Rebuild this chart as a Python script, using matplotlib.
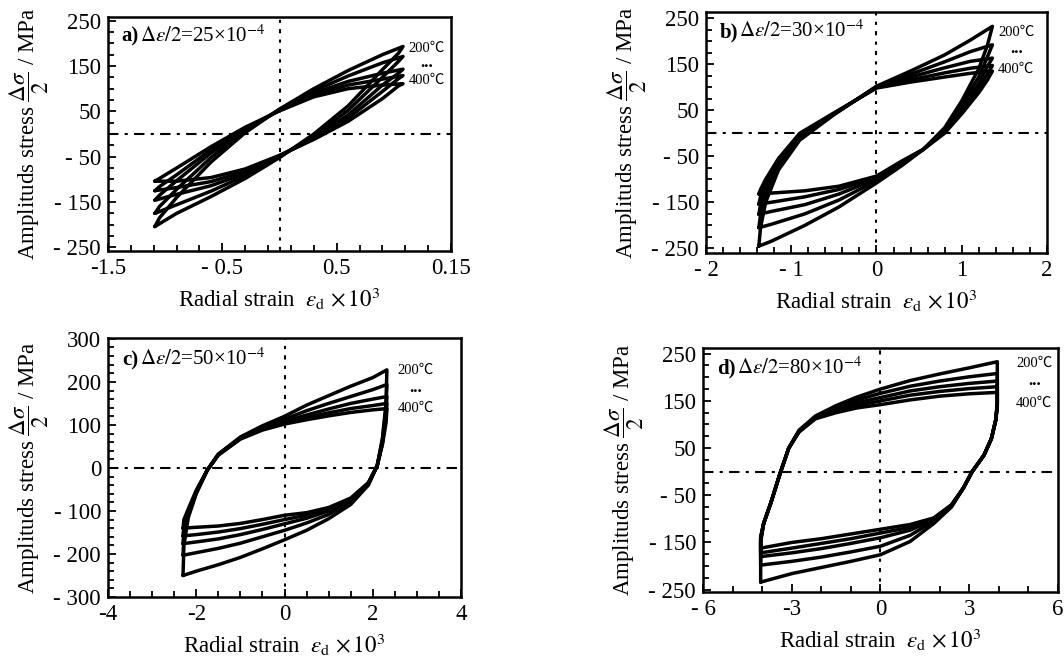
import matplotlib
matplotlib.use("Agg")
import matplotlib.pyplot as plt
import numpy as np
from matplotlib.ticker import MultipleLocator, FixedLocator

plt.rcParams['font.family'] = ['Liberation Serif', 'DejaVu Serif', 'Noto Sans CJK SC']
plt.rcParams['mathtext.fontset'] = 'stix'

# loops for 200, 250, 300, 350, 400 C

# ---- panel a : de/2 = 25e-4
xa_up = [-1.09, -1.05, -0.9, -0.6, -0.3, 0, 0.3, 0.6, 0.9, 1.08]
ya_up = [[-204, -185, -140, -62, 3, 55, 100, 140, 175, 193],
         [-175, -160, -122, -52, 7, 54, 95, 128, 157, 171],
         [-146, -135, -103, -42, 10, 53, 90, 116, 134, 143],
         [-125, -116, -90, -35, 12, 52, 86, 108, 121, 129],
         [-104, -98, -75, -28, 15, 51, 82, 100, 108, 111]]
xa_dn = [1.08, 1.04, 0.9, 0.6, 0.3, 0, -0.3, -0.6, -0.9, -1.09]
ya_dn = [[193, 178, 142, 62, 0, -52, -98, -138, -175, -204],
         [171, 160, 125, 52, -4, -50, -92, -126, -156, -175],
         [143, 134, 108, 42, -8, -49, -87, -114, -133, -146],
         [129, 122, 94, 35, -10, -48, -82, -105, -118, -125],
         [111, 106, 78, 28, -12, -47, -77, -96, -104, -104]]

# ---- panel b : de/2 = 30e-4
xb_up = [-1.38, -1.36, -1.3, -1.15, -0.9, -0.5, 0, 0.4, 0.8, 1.1, 1.36]
yb_up = [[-245, -205, -150, -80, -15, 40, 102, 135, 170, 202, 232],
         [-205, -178, -135, -72, -10, 41, 101, 128, 155, 177, 192],
         [-176, -156, -122, -65, -7, 42, 100, 122, 142, 156, 163],
         [-154, -138, -110, -60, -4, 43, 99, 116, 131, 141, 147],
         [-132, -122, -100, -55, 0, 44, 98, 111, 122, 130, 135]]
xb_dn = [1.36, 1.3, 1.2, 1.0, 0.8, 0.55, 0.3, 0, -0.44, -0.84, -1.24, -1.38]
yb_dn = [[232, 190, 140, 70, 12, -35, -70, -108, -160, -200, -235, -245],
         [192, 165, 122, 62, 8, -35, -67, -103, -145, -175, -198, -205],
         [163, 145, 108, 55, 5, -35, -64, -99, -132, -155, -170, -176],
         [147, 128, 98, 48, 2, -35, -62, -96, -122, -138, -150, -154],
         [135, 115, 88, 42, 0, -35, -60, -93, -115, -125, -130, -132]]

# ---- panel c : de/2 = 50e-4
xc_up = [-2.3, -2.28, -2.18, -2.0, -1.75, -1.5, -1.0, -0.5, 0, 0.5, 1.0, 1.5, 2.0, 2.32]
yc_up = [[-250, -180, -115, -60, -5, 32, 72, 98, 120, 146, 168, 190, 210, 228],
         [-203, -160, -110, -58, -5, 32, 70, 95, 113, 133, 150, 166, 182, 194],
         [-176, -145, -105, -56, -5, 31, 69, 92, 108, 123, 137, 150, 160, 166],
         [-158, -132, -100, -54, -5, 30, 68, 90, 105, 117, 128, 138, 145, 150],
         [-140, -120, -95, -52, -5, 30, 67, 88, 102, 112, 121, 129, 135, 138]]
xc_dn = [2.32, 2.3, 2.22, 2.1, 1.9, 1.5, 1.0, 0.5, 0, -0.5, -1.0, -1.5, -2.0, -2.3]
yc_dn = [[228, 150, 70, 5, -40, -85, -118, -145, -167, -188, -208, -225, -240, -250],
         [194, 140, 65, 5, -38, -80, -108, -128, -145, -160, -175, -187, -197, -203],
         [166, 125, 60, 5, -36, -76, -100, -117, -130, -143, -155, -165, -172, -176],
         [150, 115, 58, 5, -35, -73, -96, -110, -120, -131, -141, -149, -155, -158],
         [138, 105, 55, 5, -34, -70, -92, -104, -110, -120, -129, -135, -138, -140]]

# ---- panel d : de/2 = 80e-4
xd_up = [-4.05, -4.05, -3.95, -3.7, -3.4, -3.1, -2.75, -2.2, -1.5, -0.8, 0, 1.0, 2.0, 3.0, 3.95]
yd_up = [[-234, -150, -110, -65, -5, 50, 88, 118, 140, 158, 175, 193, 207, 220, 233],
         [-198, -145, -110, -65, -5, 50, 87, 116, 136, 152, 166, 181, 192, 201, 208],
         [-180, -142, -110, -65, -5, 50, 86, 114, 132, 146, 157, 171, 180, 187, 192],
         [-172, -140, -110, -65, -5, 50, 85, 113, 129, 140, 150, 162, 170, 176, 180],
         [-162, -138, -110, -65, -5, 50, 84, 112, 125, 135, 142, 152, 160, 165, 168]]
xd_dn = [3.95, 3.95, 3.9, 3.75, 3.5, 3.1, 2.8, 2.4, 1.8, 1.0, 0, -1.0, -2.0, -3.0, -4.05]
yd_dn = [[233, 150, 110, 70, 35, 0, -35, -75, -110, -148, -176, -190, -203, -216, -234],
         [208, 145, 110, 70, 35, 0, -35, -73, -105, -135, -158, -170, -181, -190, -198],
         [192, 142, 110, 70, 35, 0, -35, -72, -102, -124, -140, -152, -163, -172, -180],
         [180, 140, 110, 70, 35, 0, -35, -71, -100, -118, -130, -142, -152, -162, -172],
         [168, 138, 110, 70, 35, 0, -35, -70, -98, -112, -122, -132, -142, -150, -162]]

# ticks
xt_a = [-1.5, -0.5, 0.5, 1.5]
xl_a = ['-1.5', '- 0.5', '0.5', '0.15']
xt_b = [-2, -1, 0, 1, 2]
xl_b = ['- 2', '- 1', '0', '1', '2']
xt_c = [-4, -2, 0, 2, 4]
xl_c = ['-4', '-2', '0', '2', '4']
xt_d = [-6, -3, 0, 3, 6]
xl_d = ['- 6', '-3', '0', '3', '6']
yt_250 = [-250, -150, -50, 50, 150, 250]
yl_250 = ['- 250', '- 150', '- 50', '50', '150', '250']
yt_300 = [-300, -200, -100, 0, 100, 200, 300]
yl_300 = ['- 300', '- 200', '- 100', '0', '100', '200', '300']

titles = ['a)', 'b)', 'c)', 'd)']
amps = ['25', '30', '50', '80']

ylab = r'Amplituds stress $\dfrac{\Delta\sigma}{2}$ / MPa'
xlab = r'Radial strain  $\varepsilon_{\mathrm{d}}$ $\times\,10^3$'
cjk = ['Liberation Serif', 'Noto Sans CJK SC']

fig = plt.figure(figsize=(10.64, 6.62), dpi=100)
rects = [[0.1015, 0.6208, 0.3224, 0.3535],
         [0.6635, 0.6178, 0.3205, 0.3640],
         [0.1015, 0.0982, 0.3318, 0.3912],
         [0.6607, 0.1057, 0.3336, 0.3686]]

# (x centre, y of 200C label, y of 400C label)
panels = [
    (xa_up, ya_up, xa_dn, ya_dn, (-1.5, 1.5), (-258, 258), xt_a, xl_a, yt_250, yl_250,
     np.arange(-1.5, 1.55, 0.2), 25, (1.29, 189, 118)),
    (xb_up, yb_up, xb_dn, yb_dn, (-2, 2), (-260, 263), xt_b, xl_b, yt_250, yl_250,
     np.arange(-2, 2.05, 0.2), 25, (1.64, 218, 138)),
    (xc_up, yc_up, xc_dn, yc_dn, (-4, 4), (-300, 302), xt_c, xl_c, yt_300, yl_300,
     np.arange(-4, 4.05, 0.5), 20, (2.97, 226, 138)),
    (xd_up, yd_up, xd_dn, yd_dn, (-6, 6), (-255, 262), xt_d, xl_d, yt_250, yl_250,
     np.arange(-6, 6.05, 1.0), 25, (5.2, 230, 145)),
]

for i, (xu, yus, xd, yds, xlim, ylim, xt, xl, yt, yl, xminor, yminor, pt) in enumerate(panels):
    ax = fig.add_axes(rects[i])
    for yu, yd in zip(yus, yds):
        ax.plot(np.concatenate([xu, xd]), np.concatenate([yu, yd]),
                color='black', lw=2.5, solid_joinstyle='round', solid_capstyle='round')
    ax.axhline(0, color='black', lw=1.5, ls=(0, (5, 3, 1.5, 3)))
    ax.axvline(0, color='black', lw=1.5, ls=(0, (2, 3, 1.5, 3)))
    ax.set_xlim(xlim)
    ax.set_ylim(ylim)
    ax.set_xticks(xt)
    ax.set_xticklabels(xl)
    ax.set_yticks(yt)
    ax.set_yticklabels(yl)
    ax.xaxis.set_minor_locator(FixedLocator(xminor))
    ax.yaxis.set_minor_locator(MultipleLocator(yminor))
    ax.tick_params(which='both', direction='in', top=False, right=False,
                   labelsize=16.5, pad=5, width=1.3)
    ax.tick_params(which='major', length=6)
    ax.tick_params(which='minor', length=4)
    for s in ax.spines.values():
        s.set_linewidth(1.8)
    ax.set_xlabel(xlab, fontsize=16.5, labelpad=5)
    ax.set_ylabel(ylab, fontsize=16.5, labelpad=2)

    t1 = ax.text(0.04, 0.895, titles[i], transform=ax.transAxes, fontsize=15,
                 fontweight='bold', ha='left', va='baseline')
    ax.annotate(r'$\Delta\varepsilon/2$=' + amps[i] + r'×10$^{-4}$', xy=(1.0, 0.0),
                xycoords=t1, xytext=(1, 0), textcoords='offset points',
                fontsize=15, ha='left', va='bottom')

    ax.text(pt[0], pt[1], '200℃', fontsize=10.5, ha='center', va='center', family=cjk)
    ax.text(pt[0], (pt[1] + pt[2]) / 2 + 4, '...', fontsize=12, fontweight='bold',
            ha='center', va='center')
    ax.text(pt[0], pt[2], '400℃', fontsize=10.5, ha='center', va='center', family=cjk)

fig.savefig('out.png', dpi=100)
